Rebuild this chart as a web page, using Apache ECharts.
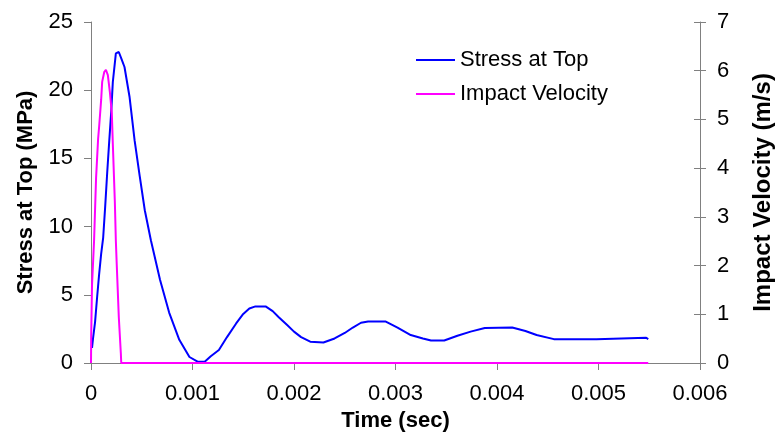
<!DOCTYPE html>
<html lang="en">
<head>
    <meta charset="UTF-8">
    <title>Stress at Top / Impact Velocity</title>
    <script type="text/javascript" src="https://cdn.jsdelivr.net/npm/echarts@6/dist/echarts.min.js"></script>
</head>
<body style="margin:0">
<div id="chart" style="width:783px;height:438px;"></div>
<script type="text/javascript">
    // time (sec), stress at top (MPa)
    var stressTime = [0.00001, 0.00002, 0.00004, 0.00006, 0.00008, 0.0001, 0.00012, 0.00014, 0.00016, 0.00018,
        0.0002, 0.000215, 0.000245, 0.000274, 0.0003, 0.00033, 0.00038, 0.00043, 0.00048, 0.00053,
        0.00059, 0.00068, 0.00077, 0.00087, 0.00097, 0.00105, 0.00112, 0.00118, 0.00126, 0.00134,
        0.00143, 0.0015, 0.00156, 0.00162, 0.00172, 0.00179, 0.00185, 0.00193, 0.002, 0.00207,
        0.00216, 0.00229, 0.0024, 0.0025, 0.00258, 0.00266, 0.00273, 0.0029, 0.00302, 0.00315,
        0.00327, 0.00335, 0.00348, 0.00361, 0.00374, 0.00388, 0.00415, 0.00428, 0.00439, 0.00456,
        0.00498, 0.00499, 0.00547, 0.00549];
    var stressValue = [1.1, 1.8, 3.0, 4.8, 6.5, 8.0, 9.2, 11.5, 14.0, 16.3,
        18.5, 20.6, 22.7, 22.8, 22.3, 21.7, 19.5, 16.3, 13.7, 11.2,
        9.0, 6.1, 3.7, 1.7, 0.44, 0.1, 0.1, 0.5, 0.95, 1.9,
        2.9, 3.6, 4.0, 4.15, 4.15, 3.8, 3.35, 2.8, 2.3, 1.9,
        1.56, 1.5, 1.8, 2.2, 2.6, 2.95, 3.05, 3.05, 2.6, 2.05,
        1.8, 1.65, 1.65, 2.0, 2.3, 2.57, 2.6, 2.35, 2.05, 1.75,
        1.75, 1.85, 1.85, 1.75];

    // time (sec), impact velocity (m/s)
    var velTime = [0, 0.000002, 0.00001, 0.00003, 0.00005, 0.00007, 0.00008, 0.0001, 0.00011, 0.00013,
        0.000147, 0.000166, 0.000186, 0.000205, 0.000215, 0.000235, 0.000245, 0.000254, 0.000274, 0.000294,
        0.000298, 0.00549];
    var velValue = [0, 0.57, 1.6, 2.5, 3.8, 4.6, 4.85, 5.4, 5.77, 5.97,
        6.02, 5.91, 5.56, 5.13, 4.5, 3.3, 2.5, 2.0, 0.94, 0.2,
        0, 0];

    var xTicks = [0, 0.001, 0.002, 0.003, 0.004, 0.005, 0.006];

    function pairs(xs, ys) {
        var out = [];
        for (var i = 0; i < xs.length; i++) {
            out.push([xs[i], ys[i]]);
        }
        return out;
    }

    var axisGray = '#808080';
    var font = 'Liberation Sans, Arial, sans-serif';

    var myChart = echarts.init(document.getElementById('chart'));
    var option = {
        animation: false,
        backgroundColor: '#fff',
        grid: {left: 91, right: 79, top: 22, bottom: 75},
        legend: {
            orient: 'vertical',
            left: 411,
            top: 44,
            icon: 'rect',
            itemWidth: 39,
            itemHeight: 2,
            itemGap: 12,
            textStyle: {fontFamily: font, fontSize: 22, color: '#000'},
            data: ['Stress at Top', 'Impact Velocity']
        },
        xAxis: {
            type: 'value',
            min: 0,
            max: 0.006,
            interval: 0.001,
            name: 'Time (sec)',
            nameLocation: 'middle',
            nameGap: 46,
            nameTextStyle: {fontFamily: font, fontSize: 22, fontWeight: 'bold', color: '#000'},
            axisLine: {lineStyle: {color: axisGray}},
            axisTick: {lineStyle: {color: axisGray}, length: 7},
            axisLabel: {
                fontFamily: font, fontSize: 22, color: '#000', margin: 20,
                formatter: function (v) {
                    var i = Math.round(v * 1000);
                    return xTicks[i] === 0 ? '0' : xTicks[i].toFixed(3);
                }
            },
            splitLine: {show: false}
        },
        yAxis: [{
            type: 'value',
            min: 0,
            max: 25,
            interval: 5,
            name: 'Stress at Top (MPa)',
            nameLocation: 'middle',
            nameGap: 54,
            nameTextStyle: {fontFamily: font, fontSize: 22, fontWeight: 'bold', color: '#000'},
            axisLine: {show: true, lineStyle: {color: axisGray}},
            axisTick: {show: true, lineStyle: {color: axisGray}, length: 7},
            axisLabel: {fontFamily: font, fontSize: 22, color: '#000', margin: 18},
            splitLine: {show: false}
        }, {
            type: 'value',
            min: 0,
            max: 7,
            interval: 1,
            position: 'right',
            name: 'Impact Velocity (m/s)',
            nameLocation: 'middle',
            nameGap: 51,
            nameRotate: 90,
            nameTextStyle: {fontFamily: font, fontSize: 24, fontWeight: 'bold', color: '#000'},
            axisLine: {show: true, lineStyle: {color: axisGray}},
            axisTick: {show: true, lineStyle: {color: axisGray}, length: 6},
            axisLabel: {fontFamily: font, fontSize: 22, color: '#000', margin: 17},
            splitLine: {show: false}
        }, {
            // inner half of the crossing ticks on the right axis
            type: 'value',
            min: 0,
            max: 7,
            interval: 1,
            position: 'right',
            axisLine: {show: false},
            axisTick: {show: true, inside: true, lineStyle: {color: axisGray}, length: 6},
            axisLabel: {show: false},
            splitLine: {show: false}
        }],
        series: [{
            name: 'Stress at Top',
            type: 'line',
            yAxisIndex: 0,
            symbol: 'none',
            lineStyle: {color: '#0000ff', width: 2},
            itemStyle: {color: '#0000ff'},
            data: pairs(stressTime, stressValue)
        }, {
            name: 'Impact Velocity',
            type: 'line',
            yAxisIndex: 1,
            symbol: 'none',
            lineStyle: {color: '#ff00ff', width: 2},
            itemStyle: {color: '#ff00ff'},
            data: pairs(velTime, velValue)
        }]
    };
    myChart.setOption(option);
</script>
</body>
</html>
